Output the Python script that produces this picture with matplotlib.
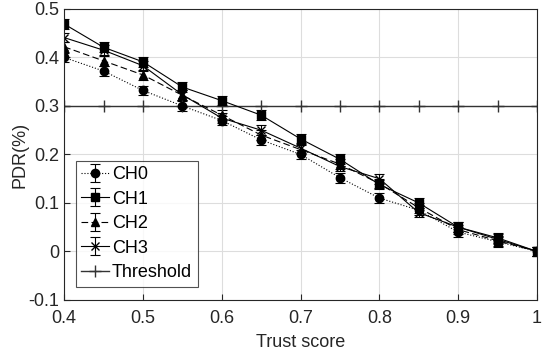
import matplotlib
matplotlib.use('Agg')
import matplotlib.pyplot as plt

trust = [0.4, 0.45, 0.5, 0.55, 0.6, 0.65, 0.7, 0.75, 0.8, 0.85, 0.9, 0.95, 1.0]
ch0 = [0.40, 0.372, 0.332, 0.30, 0.27, 0.23, 0.20, 0.152, 0.11, 0.085, 0.04, 0.02, 0.0]
ch1 = [0.469, 0.421, 0.391, 0.339, 0.311, 0.281, 0.232, 0.19, 0.138, 0.10, 0.05, 0.025, 0.0]
ch2 = [0.422, 0.393, 0.364, 0.322, 0.281, 0.24, 0.21, 0.18, 0.14, 0.09, 0.045, 0.022, 0.0]
ch3 = [0.441, 0.415, 0.383, 0.323, 0.275, 0.25, 0.213, 0.175, 0.15, 0.08, 0.05, 0.028, 0.0]
err = 0.01
threshold = [0.3] * len(trust)

plt.rcParams['font.family'] = ['Liberation Sans', 'DejaVu Sans']

fig = plt.figure(figsize=(5.44, 3.6), dpi=100)
ax = fig.add_axes([0.118, 0.167, 0.869, 0.808])

eb = dict(capsize=3.5, elinewidth=0.8, capthick=0.8, color='black', lw=0.8)
h0 = ax.errorbar(trust, ch0, yerr=err, fmt='o', ls=':', ms=6, label='CH0', **eb)
h1 = ax.errorbar(trust, ch1, yerr=err, fmt='s', ls='-', ms=6, label='CH1', **eb)
h2 = ax.errorbar(trust, ch2, yerr=err, fmt='^', ls='--', ms=6, label='CH2', dashes=(6, 3), **eb)
h3 = ax.errorbar(trust, ch3, yerr=err, fmt='x', ls='-', ms=6, label='CH3', **eb)
h4, = ax.plot(trust, threshold, color='#333333', lw=1.0, marker='+', ms=9, label='Threshold')

ax.set_xlim(0.4, 1.0)
ax.set_ylim(-0.1, 0.5)
ax.set_xticks([0.4, 0.5, 0.6, 0.7, 0.8, 0.9, 1.0])
ax.set_xticklabels(['0.4', '0.5', '0.6', '0.7', '0.8', '0.9', '1'])
ax.set_yticks([-0.1, 0, 0.1, 0.2, 0.3, 0.4, 0.5])
ax.set_yticklabels(['-0.1', '0', '0.1', '0.2', '0.3', '0.4', '0.5'])
ax.grid(True, color='#dddddd', lw=0.8)
ax.tick_params(direction='in', labelsize=13, colors='#262626', length=4)
ax.tick_params(axis='x', pad=7)
for s in ax.spines.values():
    s.set_color('#262626')
    s.set_linewidth(0.8)
ax.set_xlabel('Trust score', fontsize=13, color='#262626', labelpad=5)
ax.set_ylabel('PDR(%)', fontsize=13, color='#262626', labelpad=0)

leg = ax.legend([h0, h1, h2, h3, h4], ['CH0', 'CH1', 'CH2', 'CH3', 'Threshold'],
                loc='lower left', bbox_to_anchor=(0.025, 0.045), fontsize=13,
                frameon=True, fancybox=False, edgecolor='#262626',
                handlelength=1.5, handletextpad=0.2, borderpad=0.3,
                labelspacing=0.42, borderaxespad=0)
leg.get_frame().set_linewidth(0.8)

fig.savefig('out.png', dpi=100)
